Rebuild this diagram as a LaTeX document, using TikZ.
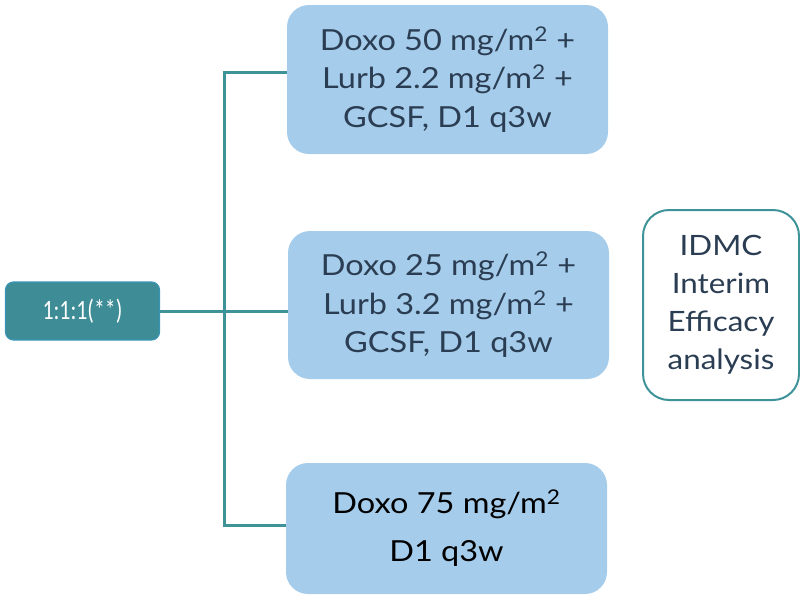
\documentclass[tikz,border=0pt]{standalone}
\usepackage{fontspec}
\setmainfont[FakeStretch=1.12]{Lato}
\newfontfamily\ratiofont[FakeStretch=0.78]{Carlito}
\definecolor{armblue}{HTML}{A5CDEB}
\definecolor{tealline}{HTML}{3E9399}
\definecolor{tealfill}{HTML}{3D8C96}
\definecolor{tealedge}{HTML}{3A95B5}
\definecolor{navytext}{HTML}{2B3D52}
\newcommand{\sqm}{m\textsuperscript{2}}
\begin{document}
\begin{tikzpicture}[x=1pt,y=-1pt,
  armbox/.style={fill=armblue,draw=none,rounded corners=22pt,inner sep=0pt,
    text=navytext,align=center,font=\fontsize{29}{38.5}\selectfont},
  ratiobox/.style={fill=tealfill,draw=tealedge,line width=1.2pt,rounded corners=8pt,
    text=white,align=center,font=\ratiofont\fontsize{28}{30}\selectfont},
  idmcbox/.style={fill=white,draw=tealline,line width=2pt,rounded corners=26pt,
    text=navytext,align=center,font=\fontsize{28}{38}\selectfont},
  conn/.style={draw=tealline,line width=3pt}]
\useasboundingbox (0,0) rectangle (800,595);
\node[armbox,minimum width=321pt,minimum height=149pt] (a1) at (447.5,79.5)
  {Doxo 50 mg/\sqm{} +\\Lurb 2.2 mg/\sqm{} +\\GCSF, D1 q3w};
\node[armbox,minimum width=321pt,minimum height=148pt] (a2) at (448.5,305)
  {Doxo 25 mg/\sqm{} +\\Lurb 3.2 mg/\sqm{} +\\GCSF, D1 q3w};
\node[armbox,text=black,minimum width=321pt,minimum height=131pt,
  font=\fontsize{29}{48}\selectfont] (a3) at (446.5,528.5)
  {Doxo 75 mg/\sqm\\D1 q3w};
\node[ratiobox,minimum width=154pt,minimum height=58pt] (r) at (82.5,311) {1:1:1(**)};
\node[idmcbox,minimum width=156pt,minimum height=190pt] (idmc) at (721,305)
  {IDMC\\Interim\\Efficacy\\analysis};
\coordinate (bt) at (224,72);
\coordinate (bb) at (224,525);
\draw[conn] (r.east) -- (r.east -| a2.west);
\draw[conn,line cap=rect] (bt) -- (bb);
\draw[conn] (bt) -- (bt -| a1.west);
\draw[conn] (bb) -- (bb -| a3.west);
\end{tikzpicture}
\end{document}
